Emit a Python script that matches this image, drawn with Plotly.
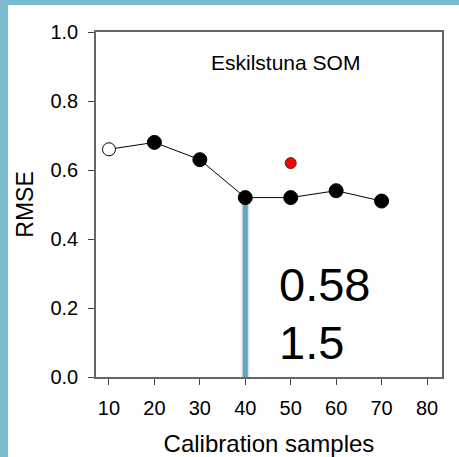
import plotly.graph_objects as go

# ---- data ----
samples = [20, 30, 40, 50, 60, 70]
rmse = [0.68, 0.63, 0.52, 0.52, 0.54, 0.51]
open_x = [10]
open_y = [0.66]
red_x = [50]
red_y = [0.62]
cut_x = [40, 40]
cut_y = [0.0, 0.52]
big_labels = ["0.58", "1.5"]
big_label_x = [47.0, 47.0]
big_label_y = [0.267, 0.101]
panel_title = "Eskilstuna SOM"
x_ticks = [10, 20, 30, 40, 50, 60, 70, 80]
y_ticks = [0.0, 0.2, 0.4, 0.6, 0.8, 1.0]

FONT = "Liberation Sans, Arial, sans-serif"
BLUE_FRAME = "#79bccf"
BLUE_LINE = "#5aaac6"

fig = go.Figure()

fig.add_trace(go.Scatter(x=open_x + samples, y=open_y + rmse, mode="lines",
                         line=dict(color="black", width=1), showlegend=False,
                         hoverinfo="skip"))
fig.add_trace(go.Scatter(x=cut_x, y=cut_y, mode="lines",
                         line=dict(color="rgba(0,0,0,0.12)", width=8),
                         showlegend=False, hoverinfo="skip"))
fig.add_trace(go.Scatter(x=cut_x, y=cut_y, mode="lines",
                         line=dict(color=BLUE_LINE, width=5),
                         showlegend=False, hoverinfo="skip"))
fig.add_trace(go.Scatter(x=open_x, y=open_y, mode="markers",
                         marker=dict(size=13, color="white",
                                     line=dict(color="black", width=1)),
                         showlegend=False))
fig.add_trace(go.Scatter(x=samples, y=rmse, mode="markers",
                         marker=dict(size=14, color="black",
                                     line=dict(color="black", width=1)),
                         showlegend=False))
fig.add_trace(go.Scatter(x=red_x, y=red_y, mode="markers",
                         marker=dict(size=11, color="#ff0000",
                                     line=dict(color="#333333", width=1)),
                         showlegend=False))

for t, x, y in zip(big_labels, big_label_x, big_label_y):
    fig.add_annotation(x=x, y=y, text=t, showarrow=False, xanchor="left",
                       yanchor="middle", font=dict(size=47, color="black", family=FONT))

fig.add_annotation(x=48.8, y=0.913, text=panel_title, showarrow=False,
                   xanchor="center", yanchor="middle",
                   font=dict(size=21, color="black", family=FONT))

L, R, T, B = 96, 17, 32, 80
W, H = 459, 457
pw, ph = W - L - R, H - T - B
fig.add_shape(type="rect", xref="paper", yref="paper",
              x0=-L / pw, x1=(-L + 8) / pw, y0=-B / ph, y1=(H - B) / ph,
              fillcolor=BLUE_FRAME, line=dict(width=0), layer="below")
fig.add_shape(type="rect", xref="paper", yref="paper",
              x0=-L / pw, x1=(W - L) / pw, y0=(H - B - 5) / ph, y1=(H - B) / ph,
              fillcolor=BLUE_FRAME, line=dict(width=0), layer="below")

axis_common = dict(showline=True, linecolor="#666666", linewidth=1.5, mirror=True,
                   ticks="outside", ticklen=6, tickcolor="#444444", tickwidth=1,
                   showgrid=False, zeroline=False, automargin=False,
                   tickfont=dict(size=20, color="black", family=FONT))

fig.update_xaxes(range=[7.14, 83.3], tickvals=x_ticks, ticklabelstandoff=6,
                 title=dict(text="Calibration samples", standoff=19,
                            font=dict(size=24, color="black", family=FONT)),
                 **axis_common)
fig.update_yaxes(range=[0, 1], tickvals=y_ticks, tickformat=".1f",
                 ticklabelstandoff=6,
                 title=dict(text="RMSE", standoff=10,
                            font=dict(size=23, color="black", family=FONT)),
                 **axis_common)

fig.update_layout(width=W, height=H, margin=dict(l=L, r=R, t=T, b=B),
                  paper_bgcolor="white", plot_bgcolor="white",
                  font=dict(family=FONT))

fig.write_html("out.html")
